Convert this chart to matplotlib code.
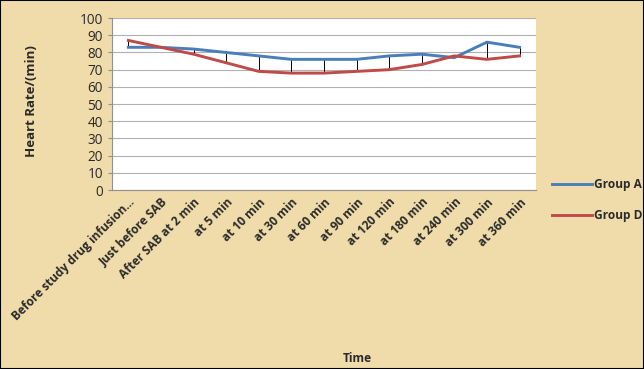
import numpy as np
import matplotlib.pyplot as plt
from matplotlib.patches import Rectangle

# heart rate readings per time point
time_points = ["Before study drug infusion...", "Just before SAB", "After SAB at 2 min",
               "at 5 min", "at 10 min", "at 30 min", "at 60 min", "at 90 min",
               "at 120 min", "at 180 min", "at 240 min", "at 300 min", "at 360 min"]
group_a = [83, 83, 82, 80, 78, 76, 76, 76, 78, 79, 77, 86, 83]
group_d = [87, 83, 79, 74, 69, 68, 68, 69, 70, 73, 78, 76, 78]

bg = "#efdcaa"
ink = "#2a2a2a"
plt.rcParams['font.family'] = ['Open Sans', 'DejaVu Sans']

fig = plt.figure(figsize=(6.44, 3.69), dpi=100)
fig.patch.set_facecolor(bg)
ax = fig.add_axes([0.174, 0.485, 0.658, 0.466])
ax.set_facecolor("white")

x = np.arange(len(time_points))

# high-low lines between the two groups
ax.vlines(x, np.minimum(group_a, group_d), np.maximum(group_a, group_d),
          color="black", lw=0.7, zorder=2)
ax.plot(x, group_a, color="#4a7ebb", lw=2.1, label="Group A", zorder=3)
ax.plot(x, group_d, color="#be4b48", lw=2.1, label="Group D", zorder=3)

ax.set_xlim(-0.5, len(time_points) - 0.5)
ax.set_ylim(0, 100)
ax.set_yticks(range(0, 101, 10))
ax.yaxis.grid(True, color="#b0b0b0", lw=0.8)
ax.set_axisbelow(True)
ax.set_xticks(x)
ax.set_xticklabels(time_points, rotation=45, ha="right", rotation_mode="anchor",
                   fontsize=8.6, fontweight="bold", color=ink)
ax.tick_params(axis="y", labelsize=9.8, colors=ink, length=3, color="#909090")
ax.tick_params(axis="x", length=0, pad=4)
for side in ["top", "right"]:
    ax.spines[side].set_visible(False)
ax.spines["left"].set_color("#909090")
ax.spines["bottom"].set_color("#909090")

ax.set_ylabel("Heart Rate/(min)", fontsize=9.5, fontweight="bold", color=ink)
ax.yaxis.set_label_coords(-0.175, 0.52)
fig.text(0.555, 0.018, "Time", fontsize=8.6, fontweight="bold", color=ink, ha="center")

leg = ax.legend(loc="upper left", bbox_to_anchor=(1.012, 0.13), frameon=False,
                handlelength=3.4, handletextpad=0.15, labelspacing=1.45,
                prop={"weight": "bold", "size": 8.6})
for t in leg.get_texts():
    t.set_color(ink)

fig.patches.append(Rectangle((0, 0), 1, 1, transform=fig.transFigure, fill=False,
                             edgecolor="black", lw=1.5))

fig.savefig("out.png", dpi=100, facecolor=bg)
